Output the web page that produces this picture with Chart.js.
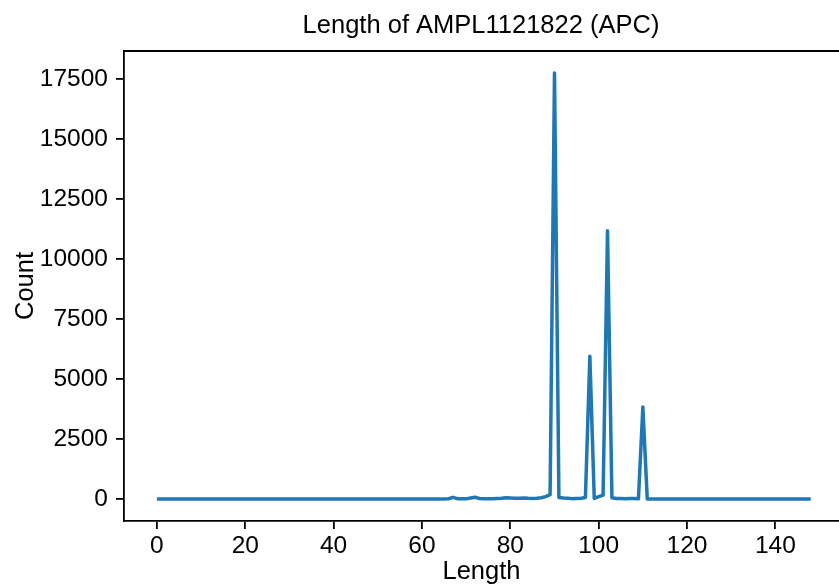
<!DOCTYPE html>
<html>
<head>
<meta charset="utf-8">
<script src="https://cdn.jsdelivr.net/npm/chart.js@4"></script>
<style>
  html, body { margin: 0; padding: 0; background: #fff; overflow: hidden; }
  #chart { display: block; }
</style>
</head>
<body>
<canvas id="chart" width="839" height="585"></canvas>
<script>
/* =========================
  Data
========================= */
const titleText = "Length of AMPL1121822 (APC)";

const lengths = [
  0, 1, 2, 3, 4, 5, 6, 7, 8, 9,
  10, 11, 12, 13, 14, 15, 16, 17, 18, 19,
  20, 21, 22, 23, 24, 25, 26, 27, 28, 29,
  30, 31, 32, 33, 34, 35, 36, 37, 38, 39,
  40, 41, 42, 43, 44, 45, 46, 47, 48, 49,
  50, 51, 52, 53, 54, 55, 56, 57, 58, 59,
  60, 61, 62, 63, 64, 65, 66, 67, 68, 69,
  70, 71, 72, 73, 74, 75, 76, 77, 78, 79,
  80, 81, 82, 83, 84, 85, 86, 87, 88, 89,
  90, 91, 92, 93, 94, 95, 96, 97, 98, 99,
  100, 101, 102, 103, 104, 105, 106, 107, 108, 109,
  110, 111, 112, 113, 114, 115, 116, 117, 118, 119,
  120, 121, 122, 123, 124, 125, 126, 127, 128, 129,
  130, 131, 132, 133, 134, 135, 136, 137, 138, 139,
  140, 141, 142, 143, 144, 145, 146, 147, 148
];

const counts = [
  0, 0, 0, 0, 0, 0, 0, 0, 0, 0,
  0, 0, 0, 0, 0, 0, 0, 0, 0, 0,
  0, 0, 0, 0, 0, 0, 0, 0, 0, 0,
  0, 0, 0, 0, 0, 0, 0, 0, 0, 0,
  0, 0, 0, 0, 0, 0, 0, 0, 0, 0,
  0, 0, 0, 0, 0, 0, 0, 0, 0, 0,
  0, 0, 0, 0, 0, 0, 10, 70, 15, 10,
  5, 40, 70, 20, 10, 10, 15, 25, 30, 50,
  45, 35, 30, 40, 30, 25, 30, 50, 100, 180,
  17750, 60, 40, 35, 15, 25, 35, 60, 5950, 20,
  100, 160, 11180, 50, 20, 20, 15, 20, 25, 10,
  3830, 0, 0, 0, 0, 0, 0, 0, 0, 0,
  0, 0, 0, 0, 0, 0, 0, 0, 0, 0,
  0, 0, 0, 0, 0, 0, 0, 0, 0, 0,
  0, 0, 0, 0, 0, 0, 0, 0, 0
];

const xTicks = [0, 20, 40, 60, 80, 100, 120, 140];
const yTicks = [0, 2500, 5000, 7500, 10000, 12500, 15000, 17500];

/* =========================
  Helper
========================= */
const FONT = "'Liberation Sans', Arial, Helvetica, sans-serif";

// top spine + title (matplotlib style)
const frame = {
  id: "frame",
  afterDraw(chart) {
    const { ctx, chartArea } = chart;
    ctx.save();
    ctx.strokeStyle = "#000";
    ctx.lineWidth = 1.8;
    ctx.beginPath();
    ctx.moveTo(chartArea.left - 0.9, chartArea.top);
    ctx.lineTo(chartArea.right, chartArea.top);
    ctx.stroke();

    ctx.fillStyle = "#000";
    ctx.font = "25.5px " + FONT;
    ctx.textAlign = "center";
    ctx.textBaseline = "alphabetic";
    ctx.fillText(titleText, 481, 33);
    ctx.restore();
  }
};

/* =========================
  Render Chart
========================= */
new Chart(document.getElementById("chart"), {
  type: "line",
  data: {
    datasets: [{
      data: lengths.map((l, i) => ({ x: l, y: counts[i] })),
      borderColor: "#1f77b4",
      borderWidth: 3.5,
      borderJoinStyle: "round",
      pointRadius: 0,
      tension: 0,
      fill: false
    }]
  },
  options: {
    responsive: false,
    animation: false,
    layout: { padding: { top: 51, left: 0, right: 0, bottom: 0 } },
    plugins: {
      legend: { display: false },
      title: { display: false },
      tooltip: { enabled: false }
    },
    scales: {
      x: {
        type: "linear",
        min: -7.45,
        max: 154.4,
        afterFit: s => { s.height = 64; },
        afterBuildTicks: s => { s.ticks = xTicks.map(v => ({ value: v })); },
        grid: { drawOnChartArea: false, tickLength: 8, color: "#000", lineWidth: 1.8 },
        border: { display: true, color: "#000", width: 1.8 },
        ticks: {
          color: "#000", padding: 3, maxRotation: 0,
          font: { family: FONT, size: 24.5 },
          callback: v => String(v)
        },
        title: { display: true, text: "Length", color: "#000", padding: 0, font: { family: FONT, size: 25.5, lineHeight: 1.0 } }
      },
      y: {
        min: -917,
        max: 18667,
        afterFit: s => { s.width = 124; },
        afterBuildTicks: s => { s.ticks = yTicks.map(v => ({ value: v })); },
        grid: { drawOnChartArea: false, tickLength: 8, color: "#000", lineWidth: 1.8 },
        border: { display: true, color: "#000", width: 1.8 },
        ticks: {
          color: "#000", padding: 8,
          font: { family: FONT, size: 24.5 },
          callback: v => String(v)
        },
        title: { display: true, text: "Count", color: "#000", padding: { top: 11, bottom: 0 }, font: { family: FONT, size: 25.5 } }
      }
    }
  },
  plugins: [frame]
});
</script>
</body>
</html>
